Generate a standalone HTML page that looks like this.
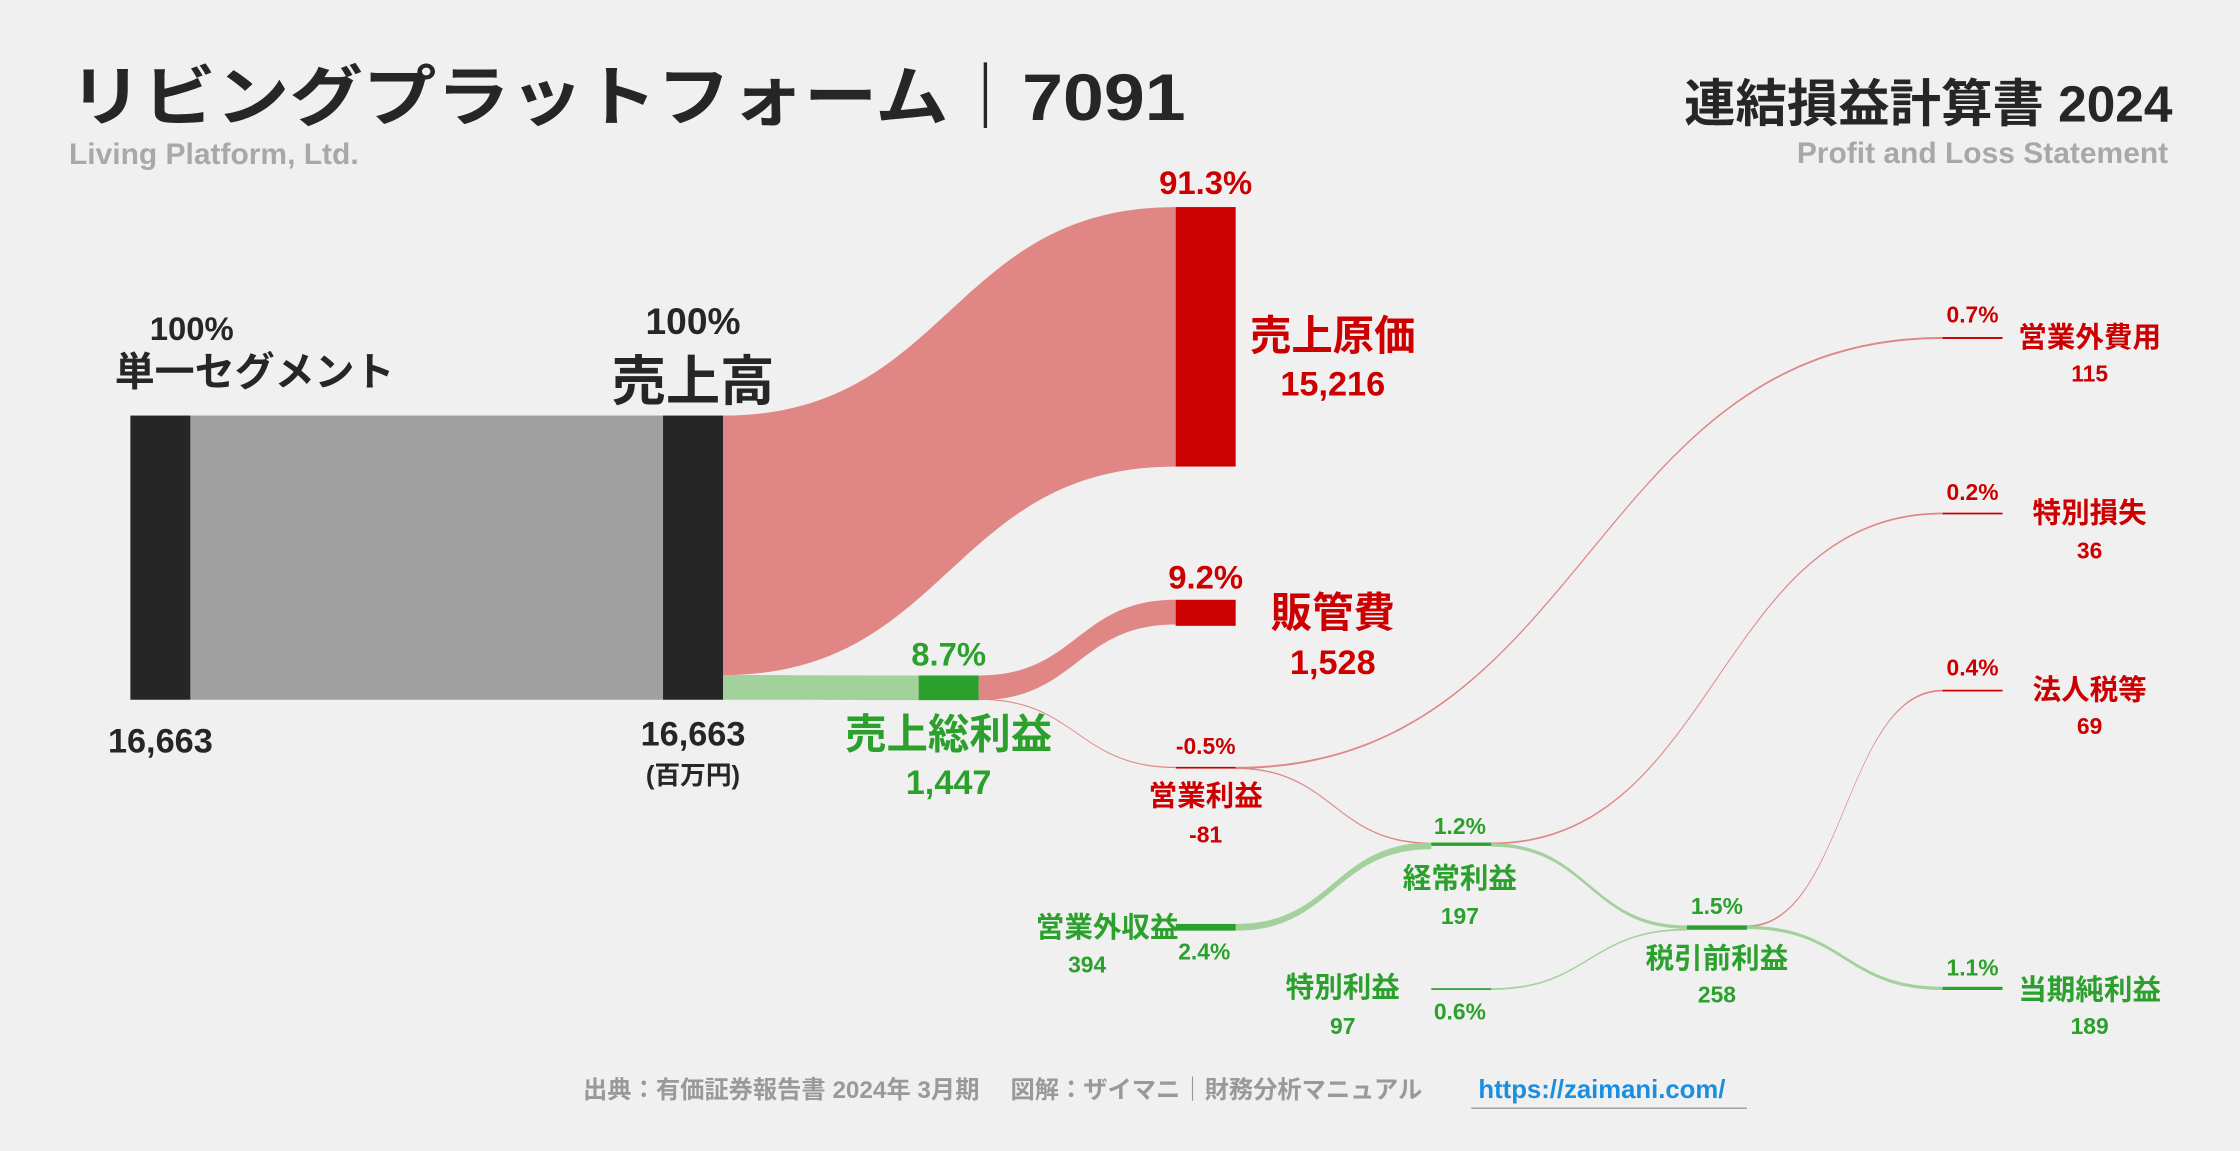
<!DOCTYPE html>
<html><head><meta charset="utf-8"><title>リビングプラットフォーム 連結損益計算書 2024</title>
<style>
html,body{margin:0;padding:0;background:#f0f0f0;}
svg{display:block;font-family:"Liberation Sans","Noto Sans CJK JP",sans-serif;font-weight:bold;}
</style></head>
<body>
<svg id="chart" width="2240" height="1151" viewBox="0 0 1568 806" xmlns="http://www.w3.org/2000/svg">
<rect x="0" y="0" width="1568" height="806" fill="#f0f0f0"/>
<text x="48" y="84" font-size="46" fill="#262626" textLength="782" lengthAdjust="spacingAndGlyphs">リビングプラットフォーム｜7091</text>
<text x="48" y="115" font-size="21" fill="#a8a8a8">Living Platform, Ltd.</text>
<text x="1521" y="85" font-size="36" fill="#262626" text-anchor="end">連結損益計算書 2024</text>
<text x="1518" y="114" font-size="21" fill="#a8a8a8" text-anchor="end">Profit and Loss Statement</text>
<g id="flows"></g>
<g id="bars"></g>
<g id="labels"></g>
<text x="408" y="769" font-size="17" fill="#999">出典：有価証券報告書 2024年 3月期　 図解：ザイマニ｜財務分析マニュアル</text>
<text x="1035" y="769" font-size="18" fill="#1a8fe0">https://zaimani.com/</text>
<line x1="1030" y1="776" x2="1223" y2="776" stroke="#999" stroke-width="1"/>
</svg>
<script>
const nodeNames = ['segment','revenue','cogs','gross','sga','op','nonopInc','nonopExp','ordinary','specGain','specLoss','pretax','tax','net'];
const nodeValues = [16663,16663,15216,1447,1528,-81,394,115,197,97,36,258,69,189];
const nodePercents = ['100%','100%','91.3%','8.7%','9.2%','-0.5%','2.4%','0.7%','1.2%','0.6%','0.2%','1.5%','0.4%','1.1%'];
const nodeLabels = ['単一セグメント','売上高','売上原価','売上総利益','販管費','営業利益','営業外収益','営業外費用','経常利益','特別利益','特別損失','税引前利益','法人税等','当期純利益'];
const valueTexts = ['16,663','16,663','15,216','1,447','1,528','-81','394','115','197','97','36','258','69','189'];

const NS='http://www.w3.org/2000/svg';
const fmt=v=>v.toLocaleString('en-US');
const k = 199/nodeValues[0];
const h = v => Math.max(Math.abs(v)*k, 1.2);
const RED='#cc0000', GREEN='#2ca02c', DARK='#262626';
const FRED='#e08785', FGREEN='#a3d19c';
// layout (node x columns and top y)
const X = {segment:91,revenue:464,cogs:823,gross:643,sga:823,op:823,nonopInc:823,nonopExp:1360,ordinary:1002,specGain:1002,specLoss:1360,pretax:1181,tax:1360,net:1360};
const Y = {segment:291,revenue:291,cogs:145,gross:473,sga:420,op:537,nonopInc:647,nonopExp:236,ordinary:590,specGain:692,specLoss:359,pretax:648,tax:483,net:691};
const W=42;
const val = n => nodeValues[nodeNames.indexOf(n)];
function el(tag,attrs,parent){const e=document.createElementNS(NS,tag);for(const a in attrs)e.setAttribute(a,attrs[a]);parent.appendChild(e);return e;}
const gF=document.getElementById('flows'), gB=document.getElementById('bars'), gL=document.getElementById('labels');

function flow(name,x0,y0,x1,y1,w,color,op){
  const m=(x0+x1)/2;
  const d=`M${x0},${y0} C${m},${y0} ${m},${y1} ${x1},${y1} L${x1},${y1+w} C${m},${y1+w} ${m},${y0+w} ${x0},${y0+w} Z`;
  const p=el('path',{d:d,fill:color,'fill-opacity':op},gF);
  
  
}
// segment -> revenue
const rv=h(val('revenue'));
const r0=el('rect',{x:X.segment+W,y:Y.segment,width:X.revenue-X.segment-W,height:rv,fill:'#a0a0a0'},gF);


flow('flow-revenue-cogs',X.revenue+W,Y.revenue,X.cogs,Y.cogs,h(val('cogs')),FRED,1);
flow('flow-revenue-gross',X.revenue+W,Y.revenue+h(val('cogs')),X.gross,Y.gross,h(val('gross')),FGREEN,1);
flow('flow-gross-sga',X.gross+W,Y.gross,X.sga,Y.sga,h(val('gross')),FRED,1);
flow('flow-gross-op',X.gross+W,Y.gross+h(val('gross'))-1,X.op,Y.op,0.8,FRED,1);
flow('flow-op-nonopexp',X.op+W,Y.op,X.nonopExp,Y.nonopExp,h(val('nonopExp')),FRED,1);
flow('flow-op-ordinary',X.op+W,Y.op+0.5,X.ordinary,Y.ordinary,1,FRED,1);
flow('flow-nonopinc-ordinary',X.nonopInc+W,Y.nonopInc,X.ordinary,Y.ordinary,h(val('nonopInc')),FGREEN,1);
flow('flow-ordinary-specloss',X.ordinary+W,Y.ordinary,X.specLoss,Y.specLoss,h(val('specLoss')),FRED,1);
flow('flow-ordinary-pretax',X.ordinary+W,Y.ordinary+0.5,X.pretax,Y.pretax,h(val('ordinary')),FGREEN,1);
flow('flow-specgain-pretax',X.specGain+W,Y.specGain,X.pretax,Y.pretax+h(val('ordinary')),h(val('specGain')),FGREEN,1);
flow('flow-pretax-tax',X.pretax+W,Y.pretax,X.tax,Y.tax,h(val('tax')),FRED,1);
flow('flow-pretax-net',X.pretax+W,Y.pretax+h(val('tax'))*0.3,X.net,Y.net,h(val('net')),FGREEN,1);

const barColor={segment:DARK,revenue:DARK,cogs:RED,gross:GREEN,sga:RED,op:RED,nonopInc:GREEN,nonopExp:RED,ordinary:GREEN,specGain:GREEN,specLoss:RED,pretax:GREEN,tax:RED,net:GREEN};
nodeNames.forEach(n=>{
  const b=el('rect',{x:X[n],y:Y[n],width:W,height:h(val(n)),fill:barColor[n]},gB);
  
  
});
// label layout: [pctX,pctY,pctSize, nameX,nameY,nameSize, valX,valY,valSize, color]
const L = {
  segment:[134,238,23, 178,270,28, 112,527,24,DARK],
  revenue:[485,234,26, 485,280,38, 485,522,24,DARK],
  cogs:[844,136,23, 933,245,29, 933,277,24,RED],
  gross:[664,466,23, 664,524,29, 664,556,24,GREEN],
  sga:[844,412,23, 933,439,29, 933,472,24,RED],
  op:[844,528,16, 844,564,20, 844,590,16,RED],
  nonopInc:[843,672,16, 775,656,20, 761,681,16,GREEN],
  nonopExp:[1381,226,16, 1463,243,20, 1463,267,16,RED],
  ordinary:[1022,584,16, 1022,622,20, 1022,647,16,GREEN],
  specGain:[1022,714,16, 940,698,20, 940,724,16,GREEN],
  specLoss:[1381,350,16, 1463,366,20, 1463,391,16,RED],
  pretax:[1202,640,16, 1202,678,20, 1202,702,16,GREEN],
  tax:[1381,473,16, 1463,490,20, 1463,514,16,RED],
  net:[1381,683,16, 1463,700,20, 1463,724,16,GREEN]
};
nodeNames.forEach((n,i)=>{
  const c=L[n];
  const t1=el('text',{x:c[0],y:c[1],'font-size':c[2],fill:c[9],'text-anchor':'middle'},gL);t1.textContent=nodePercents[i];
  
  
  const t2=el('text',{x:c[3],y:c[4],'font-size':c[5],fill:c[9],'text-anchor':'middle'},gL);t2.textContent=nodeLabels[i];
  
  
  const t3=el('text',{x:c[6],y:c[7],'font-size':c[8],fill:c[9],'text-anchor':'middle'},gL);t3.textContent=valueTexts[i];
  
  
});
const u=el('text',{x:485,y:549,'font-size':18,fill:DARK,'text-anchor':'middle'},gL);u.textContent='(百万円)';


</script>
</body></html>
